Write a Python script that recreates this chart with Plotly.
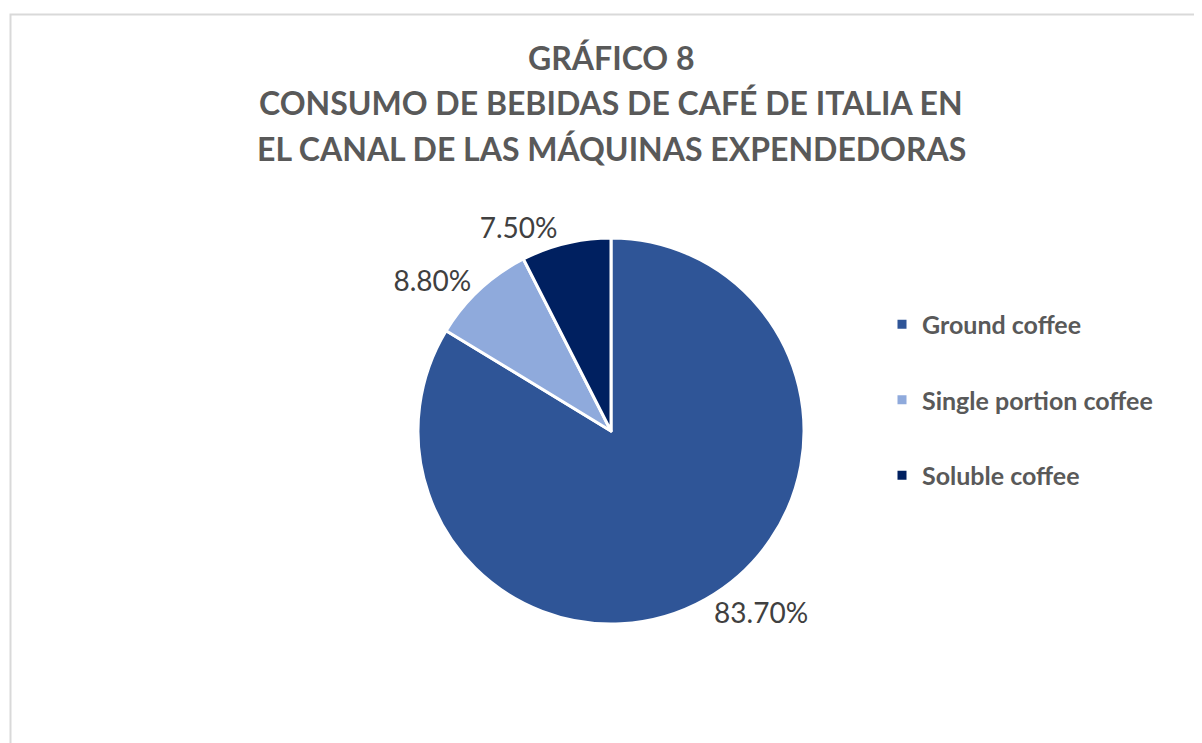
import plotly.graph_objects as go

categories = ["Ground coffee", "Single portion coffee", "Soluble coffee"]
shares = [83.7, 8.8, 7.5]
colors = ["#2F5597", "#8FAADC", "#002060"]
title_lines = [
    "GRÁFICO 8",
    "CONSUMO DE BEBIDAS DE CAFÉ DE ITALIA EN",
    "EL CANAL DE LAS MÁQUINAS EXPENDEDORAS",
]

W, H = 1202, 743
OFF = 8  # page body margin
cx, cy, r = 611 - OFF, 431 - OFF, 193

fig = go.Figure()
fig.add_trace(
    go.Pie(
        labels=categories,
        values=shares,
        sort=False,
        direction="clockwise",
        rotation=0,
        marker=dict(colors=colors, line=dict(color="white", width=3)),
        texttemplate="%{value:.2f}%",
        textposition="outside",
        textfont=dict(family="Lato", size=28, color="#404040"),
        domain=dict(x=[(cx - r) / W, (cx + r) / W], y=[(H - cy - r) / H, (H - cy + r) / H]),
        hoverinfo="skip",
        showlegend=False,
    )
)
# legend entries (one per category) so the item spacing can be set
for cat, col in zip(categories, colors):
    fig.add_trace(go.Scatter(
        x=[None], y=[None], mode="markers", name=cat, legendgroup=cat,
        marker=dict(symbol="square", size=9, color=col), showlegend=True,
    ))

annotations = []
for i, line in enumerate(title_lines):
    y_px = 57 + 45.5 * i - OFF
    annotations.append(dict(
        text=f"<b>{line}</b>", x=cx / W, y=1 - y_px / H, xref="paper", yref="paper",
        xanchor="center", yanchor="middle", showarrow=False,
        font=dict(family="Lato", size=32, color="#595959"),
    ))

fig.update_layout(
    width=W, height=H,
    margin=dict(l=0, r=0, t=0, b=0),
    paper_bgcolor="white", plot_bgcolor="white",
    xaxis=dict(visible=False), yaxis=dict(visible=False),
    annotations=annotations,
    showlegend=True,
    legend=dict(
        x=(882 - OFF) / W, y=1 - (400 - OFF) / H, xanchor="left", yanchor="middle",
        font=dict(family="Lato", size=25, color="#595959", weight="bold"),
        bgcolor="rgba(0,0,0,0)", itemclick=False, itemdoubleclick=False,
        tracegroupgap=40, itemwidth=30,
    ),
    shapes=[dict(type="rect", xref="paper", yref="paper",
                 x0=(10.5 - OFF) / W, x1=1.01, y0=-0.01, y1=1 - (14.5 - OFF) / H,
                 line=dict(color="#D9D9D9", width=2), fillcolor="rgba(0,0,0,0)", layer="below")],
)

fig.write_html("out.html")
